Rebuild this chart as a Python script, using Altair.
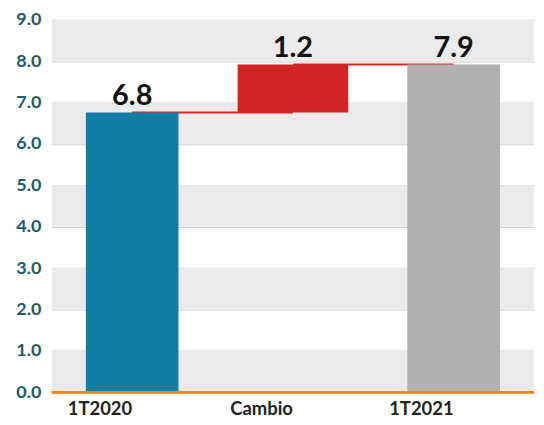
import altair as alt
import pandas as pd

categories = ["1T2020", "Cambio", "1T2021"]
starts = [0.0, 6.76, 0.0]
ends = [6.76, 7.92, 7.92]
labels = ["6.8", "1.2", "7.9"]
kinds = ["inicio", "cambio", "fin"]
band_lo = [0, 2, 4, 6, 8]
band_hi = [1, 3, 5, 7, 9]
conn_from = ["1T2020", "Cambio"]
conn_to = ["Cambio", "1T2021"]
conn_y = [6.76, 7.92]

df = pd.DataFrame({"cat": categories, "start": starts, "end": ends, "label": labels, "kind": kinds})
bands = pd.DataFrame({"lo": band_lo, "hi": band_hi})
conns = pd.DataFrame({"a": conn_from, "b": conn_to, "y": conn_y})

FONT = "Lato"
yscale = alt.Scale(domain=[0, 9], nice=False, zero=True)
xscale = alt.Scale(domain=categories, paddingInner=0, paddingOuter=0)
xenc = alt.X("cat:N", scale=xscale,
             axis=alt.Axis(title=None, labelAngle=0, labelFont=FONT, labelFontSize=18.5,
                           labelFontWeight="bold", labelColor="#222222", ticks=False,
                           domain=False, labelPadding=16))

bg = alt.Chart(bands).mark_rect(color="#ebebeb").encode(
    x=alt.value(0), x2=alt.value("width"),
    y=alt.Y("lo:Q", scale=yscale, axis=alt.Axis(
        title=None, values=list(range(10)), format=".1f", labelFont=FONT, labelFontSize=18,
        labelFontWeight="bold", labelColor="#1f5a66", ticks=False, domain=False,
        gridColor="#d0d0d0", gridWidth=1, labelPadding=11)),
    y2="hi:Q",
)

conn = alt.Chart(conns).mark_rule(color="#d32626", strokeWidth=2).encode(
    x=alt.X("a:N", scale=xscale), x2="b:N", y=alt.Y("y:Q", scale=yscale)
)

colors = alt.Scale(domain=["inicio", "cambio", "fin"], range=["#127ea6", "#d32424", "#b0b0b0"])

tot = alt.Chart(df).transform_filter(alt.datum.kind != "cambio").mark_bar(width=93).encode(
    x=xenc, y=alt.Y("start:Q", scale=yscale), y2="end:Q",
    color=alt.Color("kind:N", scale=colors, legend=None),
)
chg = alt.Chart(df).transform_filter(alt.datum.kind == "cambio").mark_bar(width=111).encode(
    x=xenc, y=alt.Y("start:Q", scale=yscale), y2="end:Q",
    color=alt.Color("kind:N", scale=colors, legend=None),
)

base = alt.Chart(df).mark_rule(color="#f0870f", strokeWidth=2.5).encode(
    x=alt.value(0), x2=alt.value("width"), y=alt.datum(0, scale=yscale)
)

txt = alt.Chart(df).mark_text(font=FONT, fontSize=29, fontWeight="bold", color="#111111",
                              baseline="alphabetic", dy=-7).encode(
    x=xenc, y=alt.Y("end:Q", scale=yscale), text="label:N"
)

chart = alt.layer(bg, conn, tot, chg, base, txt).properties(
    width=484, height=374, padding={"left": 7, "top": 2, "right": 0, "bottom": 0}
).configure_view(stroke=None).configure_axis(grid=True).configure_axisX(grid=False)

chart.save("out.html", embed_options={"renderer": "svg", "actions": False})
